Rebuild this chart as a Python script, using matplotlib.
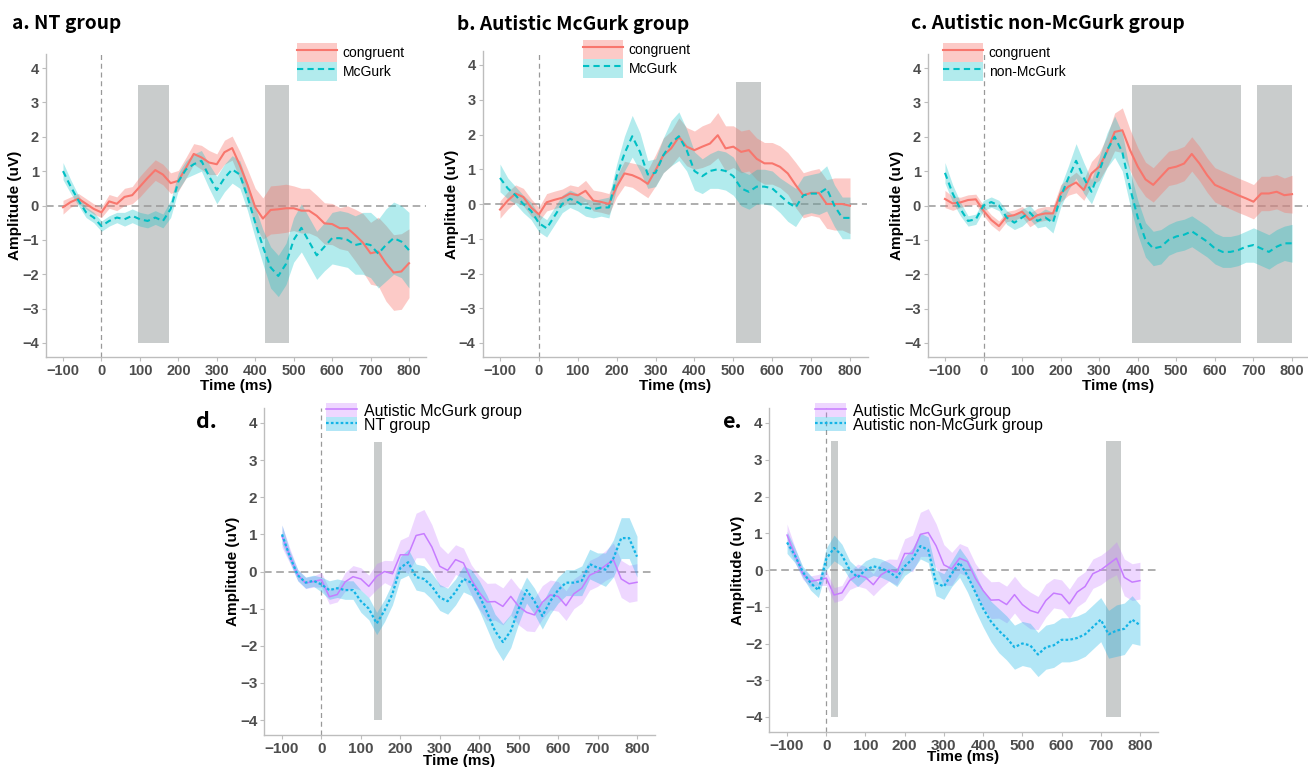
import numpy as np
import matplotlib
matplotlib.use("Agg")
import matplotlib.pyplot as plt
from matplotlib.patches import Patch
from matplotlib.lines import Line2D

plt.rcParams['font.family'] = ['Liberation Sans', 'DejaVu Sans']

# sample times (ms)
time_ms = np.arange(-100, 801, 20)

# ---- a. NT group ----
nt_congruent = [-0.05, 0.1, 0.2, 0.05, -0.1, -0.2, 0.12, 0.05, 0.25, 0.3,
                0.55, 0.8, 1.03, 0.9, 0.65, 0.72, 1.1, 1.5, 1.4, 1.25,
                1.2, 1.55, 1.67, 1.17, 0.6, -0.05, -0.38, -0.13, -0.11, -0.08,
                -0.08, -0.15, -0.15, -0.3, -0.52, -0.54, -0.66, -0.66, -0.86, -1.08,
                -1.39, -1.34, -1.68, -1.95, -1.92, -1.68]
nt_congruent_se = [0.2, 0.15, 0.15, 0.15, 0.15, 0.15, 0.2, 0.2, 0.25, 0.25,
                   0.3, 0.3, 0.3, 0.3, 0.3, 0.3, 0.3, 0.3, 0.35, 0.35,
                   0.3, 0.35, 0.35, 0.4, 0.45, 0.55, 0.6, 0.7, 0.7, 0.7,
                   0.65, 0.65, 0.65, 0.6, 0.6, 0.6, 0.6, 0.65, 0.75, 0.85,
                   0.9, 1.0, 1.1, 1.1, 1.1, 1.0]
nt_mcgurk = [1.0, 0.55, 0.15, -0.2, -0.35, -0.6, -0.45, -0.35, -0.4, -0.3,
             -0.4, -0.45, -0.35, -0.45, -0.1, 0.7, 1.05, 1.2, 1.3, 0.85,
             0.45, 0.8, 1.05, 0.9, 0.25, -0.5, -1.2, -1.8, -2.05, -1.7,
             -1.0, -0.65, -1.05, -1.45, -1.2, -0.95, -0.95, -1.0, -1.15, -1.1,
             -1.15, -1.4, -1.15, -0.95, -1.05, -1.3]
nt_mcgurk_se = [0.25, 0.2, 0.15, 0.15, 0.15, 0.15, 0.15, 0.15, 0.2, 0.2,
                0.2, 0.2, 0.2, 0.2, 0.25, 0.25, 0.25, 0.3, 0.3, 0.35,
                0.4, 0.4, 0.4, 0.4, 0.4, 0.45, 0.5, 0.6, 0.6, 0.6,
                0.65, 0.7, 0.7, 0.7, 0.7, 0.75, 0.8, 0.8, 0.85, 0.9,
                0.95, 1.0, 1.05, 1.05, 1.05, 1.1]

# ---- b. Autistic McGurk group ----
am_congruent = [-0.16, 0.1, 0.3, 0.2, -0.1, -0.3, 0.05, 0.12, 0.18, 0.3,
                0.25, 0.38, 0.1, 0.06, 0.0, 0.5, 0.88, 0.83, 0.73, 0.58,
                0.97, 1.4, 1.6, 1.93, 1.65, 1.55, 1.65, 1.74, 1.98, 1.6,
                1.65, 1.5, 1.55, 1.3, 1.17, 1.17, 1.07, 0.88, 0.55, 0.25,
                0.32, 0.32, 0.0, 0.0, 0.0, -0.05]
am_congruent_se = [0.25, 0.25, 0.25, 0.25, 0.25, 0.2, 0.25, 0.25, 0.25, 0.25,
                   0.25, 0.3, 0.3, 0.3, 0.3, 0.3, 0.35, 0.35, 0.4, 0.4,
                   0.45, 0.5, 0.5, 0.55, 0.55, 0.55, 0.6, 0.6, 0.65, 0.65,
                   0.6, 0.6, 0.6, 0.6, 0.6, 0.6, 0.6, 0.6, 0.65, 0.65,
                   0.65, 0.7, 0.7, 0.75, 0.75, 0.8]
am_mcgurk = [0.75, 0.45, 0.25, 0.0, -0.2, -0.55, -0.7, -0.35, 0.0, 0.15,
             0.05, -0.1, -0.15, -0.1, -0.1, 0.8, 1.45, 1.95, 1.5, 0.85,
             0.9, 1.4, 1.75, 1.95, 1.55, 0.95, 0.8, 0.95, 1.0, 0.95,
             0.8, 0.45, 0.35, 0.5, 0.5, 0.45, 0.25, 0.05, -0.1, 0.25,
             0.3, 0.3, 0.45, -0.05, -0.4, -0.4]
am_mcgurk_se = [0.4, 0.3, 0.25, 0.25, 0.25, 0.25, 0.25, 0.25, 0.25, 0.25,
                0.25, 0.25, 0.25, 0.25, 0.3, 0.35, 0.5, 0.6, 0.55, 0.4,
                0.4, 0.5, 0.65, 0.7, 0.6, 0.55, 0.5, 0.5, 0.55, 0.55,
                0.55, 0.5, 0.5, 0.5, 0.5, 0.5, 0.5, 0.55, 0.55, 0.55,
                0.55, 0.6, 0.65, 0.6, 0.6, 0.6]

# ---- c. Autistic non-McGurk group ----
an_congruent = [0.19, 0.06, 0.09, 0.16, 0.18, -0.15, -0.42, -0.6, -0.32, -0.28,
                -0.18, -0.42, -0.28, -0.23, -0.23, 0.35, 0.55, 0.67, 0.45, 0.93,
                1.13, 1.56, 2.14, 2.19, 1.61, 1.13, 0.76, 0.6, 0.84, 1.08,
                1.13, 1.22, 1.5, 1.22, 0.88, 0.6, 0.5, 0.4, 0.3, 0.21,
                0.11, 0.35, 0.35, 0.4, 0.3, 0.33]
an_congruent_se = [0.25, 0.2, 0.15, 0.15, 0.15, 0.15, 0.15, 0.15, 0.15, 0.15,
                   0.15, 0.2, 0.2, 0.2, 0.2, 0.25, 0.25, 0.3, 0.3, 0.35,
                   0.4, 0.45, 0.55, 0.65, 0.6, 0.55, 0.5, 0.5, 0.5, 0.5,
                   0.5, 0.5, 0.5, 0.5, 0.5, 0.5, 0.5, 0.5, 0.5, 0.5,
                   0.5, 0.5, 0.5, 0.5, 0.5, 0.55]
an_nonmcgurk = [0.95, 0.35, -0.1, -0.45, -0.4, 0.0, 0.1, 0.0, -0.35, -0.5,
                -0.35, -0.2, -0.45, -0.35, -0.5, 0.25, 0.8, 1.3, 0.8, 0.4,
                1.0, 1.6, 2.0, 1.55, 0.5, -0.35, -1.0, -1.25, -1.2, -1.0,
                -0.9, -0.85, -0.75, -0.9, -1.05, -1.25, -1.35, -1.35, -1.3, -1.2,
                -1.15, -1.25, -1.35, -1.2, -1.1, -1.1]
an_nonmcgurk_se = [0.3, 0.25, 0.2, 0.15, 0.15, 0.15, 0.15, 0.15, 0.2, 0.2,
                   0.25, 0.2, 0.2, 0.25, 0.3, 0.3, 0.35, 0.5, 0.45, 0.35,
                   0.4, 0.5, 0.6, 0.55, 0.5, 0.5, 0.5, 0.5, 0.5, 0.45,
                   0.45, 0.45, 0.45, 0.45, 0.45, 0.45, 0.45, 0.45, 0.45, 0.45,
                   0.5, 0.5, 0.5, 0.5, 0.5, 0.55]

# ---- d./e. group comparisons ----
grp_am = [0.95, 0.42, -0.1, -0.31, -0.27, -0.22, -0.68, -0.62, -0.28, -0.14,
          -0.2, -0.4, -0.13, 0.0, -0.06, 0.45, 0.45, 0.97, 1.02, 0.66,
          0.14, 0.03, 0.32, 0.23, -0.22, -0.56, -0.82, -0.81, -0.94, -0.67,
          -0.94, -1.1, -1.17, -0.83, -0.63, -0.67, -0.92, -0.6, -0.45, -0.1,
          0.0, 0.16, 0.32, -0.2, -0.33, -0.29]
grp_am_se = [0.3, 0.2, 0.15, 0.15, 0.15, 0.2, 0.2, 0.2, 0.25, 0.3,
             0.3, 0.3, 0.35, 0.3, 0.35, 0.4, 0.5, 0.6, 0.65, 0.6,
             0.55, 0.45, 0.4, 0.4, 0.4, 0.45, 0.5, 0.5, 0.5, 0.5,
             0.5, 0.5, 0.45, 0.45, 0.4, 0.4, 0.4, 0.4, 0.4, 0.4,
             0.4, 0.4, 0.45, 0.5, 0.5, 0.5]
grp_nt = [1.0, 0.4, -0.1, -0.3, -0.25, -0.35, -0.5, -0.45, -0.5, -0.5,
          -0.8, -1.0, -1.4, -1.05, -0.6, 0.1, 0.25, -0.15, -0.2, -0.4,
          -0.7, -0.8, -0.55, -0.2, -0.3, -0.65, -1.1, -1.6, -1.9, -1.6,
          -1.0, -0.5, -0.8, -1.2, -0.8, -0.5, -0.3, -0.3, -0.25, 0.2,
          0.1, 0.05, 0.35, 0.9, 0.9, 0.4]
grp_nt_se = [0.25, 0.15, 0.15, 0.15, 0.15, 0.2, 0.25, 0.25, 0.25, 0.25,
             0.3, 0.3, 0.3, 0.3, 0.3, 0.3, 0.35, 0.35, 0.35, 0.35,
             0.35, 0.35, 0.35, 0.35, 0.35, 0.4, 0.45, 0.45, 0.5, 0.45,
             0.4, 0.35, 0.35, 0.35, 0.35, 0.35, 0.35, 0.35, 0.4, 0.4,
             0.4, 0.45, 0.5, 0.55, 0.55, 0.55]
grp_an = [0.75, 0.4, -0.05, -0.35, -0.55, 0.3, 0.6, 0.4, 0.0, -0.2,
          0.0, 0.1, 0.05, -0.05, -0.2, 0.1, 0.3, 0.65, 0.55, -0.35,
          -0.45, -0.1, 0.2, -0.15, -0.6, -1.05, -1.4, -1.65, -1.85, -2.1,
          -2.0, -2.05, -2.3, -2.1, -2.05, -1.9, -1.9, -1.85, -1.75, -1.55,
          -1.35, -1.75, -1.65, -1.6, -1.35, -1.5]
grp_an_se = [0.3, 0.2, 0.15, 0.2, 0.2, 0.3, 0.35, 0.3, 0.25, 0.25,
             0.25, 0.25, 0.25, 0.25, 0.25, 0.25, 0.3, 0.35, 0.35, 0.35,
             0.35, 0.35, 0.4, 0.45, 0.5, 0.5, 0.55, 0.6, 0.6, 0.6,
             0.6, 0.6, 0.6, 0.6, 0.6, 0.6, 0.6, 0.6, 0.6, 0.6,
             0.6, 0.65, 0.7, 0.7, 0.65, 0.55]

# significant windows (ms)
windows_a = [(96, 176), (425, 488)]
windows_b = [(506, 570)]
windows_c = [(384, 668), (708, 800)]
windows_d = [(133, 153)]
windows_e = [(12, 31), (714, 752)]

RED, CYAN = '#F8766D', '#00BFC4'
PURPLE, BLUE = '#C77CFF', '#12B3E6'
GRAY = '#C9CCCC'

W, H = 1308, 767
fig = plt.figure(figsize=(W / 100, H / 100), dpi=100)


def add_axes_px(left, right, top, bottom):
    return fig.add_axes([left / W, 1 - bottom / H, (right - left) / W, (bottom - top) / H])


def draw_panel(ax, series, windows, fs, small):
    for x0, x1 in windows:
        ax.fill_between([x0, x1], -4, 3.5, color=GRAY, lw=0, zorder=1)
    ax.axhline(0, color='#999999', lw=1.1, ls=(0, (5, 3)), zorder=2)
    ax.axvline(0, color='#999999', lw=0.9, ls=(0, (4, 3)), zorder=2)
    for mean, se, col, alpha, ls, lw in series:
        m = np.array(mean)
        s = np.array(se)
        ax.fill_between(time_ms, m - s, m + s, color=col, alpha=alpha, lw=0, zorder=3)
    for mean, se, col, alpha, ls, lw in series:
        ax.plot(time_ms, mean, color=col, ls=ls, lw=lw, zorder=4)
    ax.set_xlim(-145, 845)
    ax.set_ylim(-4.4, 4.4)
    ax.set_xticks(range(-100, 801, 100))
    ax.set_yticks(range(-4, 5))
    for sp in ['top', 'right']:
        ax.spines[sp].set_visible(False)
    for sp in ['left', 'bottom']:
        ax.spines[sp].set_color('#BDBDBD')
        ax.spines[sp].set_linewidth(1.0)
    ax.tick_params(length=3, width=0.8, color='#BDBDBD', pad=2, labelsize=fs, labelcolor='#4D4D4D')
    for lab in ax.get_xticklabels() + ax.get_yticklabels():
        lab.set_fontweight('bold')
    ax.set_xlabel('Time (ms)', fontsize=11, fontweight='bold')
    ax.set_ylabel('Amplitude (uV)', fontsize=11, fontweight='bold')
    if small:
        ax.xaxis.set_label_coords(0.5, -0.058)
        ax.yaxis.set_label_coords(-0.062, 0.5)
    else:
        ax.xaxis.set_label_coords(0.5, -0.072)
        ax.yaxis.set_label_coords(-0.062, 0.5)


def add_legend(ax, x, y, entries, fs, hl, hh, ls_space):
    handles, labels = [], []
    for lab, col, alpha, ls, lw in entries:
        handles.append((Patch(facecolor=col, alpha=alpha, lw=0),
                        Line2D([], [], color=col, ls=ls, lw=lw)))
        labels.append(lab)
    ax.legend(handles, labels, loc='upper left', bbox_to_anchor=(x / W, 1 - y / H),
              bbox_transform=fig.transFigure, frameon=False, fontsize=fs,
              borderpad=0, borderaxespad=0, handlelength=hl, handleheight=hh,
              handletextpad=0.4, labelspacing=ls_space)


dashed = (0, (3, 2))
dotted = (0, (1.2, 1.0))

# a
ax_a = add_axes_px(45.7, 426.3, 54.25, 356.75)
draw_panel(ax_a, [(nt_congruent, nt_congruent_se, RED, 0.38, '-', 1.5),
                  (nt_mcgurk, nt_mcgurk_se, CYAN, 0.3, dashed, 1.5)], windows_a, 10.5, False)
add_legend(ax_a, 297, 43, [('congruent', RED, 0.38, '-', 1.5), ('McGurk', CYAN, 0.3, dashed, 1.5)],
           10, 2.9, 1.75, 0)

# b
ax_b = add_axes_px(482.5, 867.5, 51.1, 356.9)
draw_panel(ax_b, [(am_congruent, am_congruent_se, RED, 0.38, '-', 1.5),
                  (am_mcgurk, am_mcgurk_se, CYAN, 0.3, dashed, 1.5)], windows_b, 10.5, False)
add_legend(ax_b, 583, 40, [('congruent', RED, 0.38, '-', 1.5), ('McGurk', CYAN, 0.3, dashed, 1.5)],
           10, 2.9, 1.75, 0)

# c
ax_c = add_axes_px(927.6, 1309.4, 54.25, 356.75)
draw_panel(ax_c, [(an_congruent, an_congruent_se, RED, 0.38, '-', 1.5),
                  (an_nonmcgurk, an_nonmcgurk_se, CYAN, 0.3, dashed, 1.5)], windows_c, 10.5, False)
add_legend(ax_c, 943, 43, [('congruent', RED, 0.38, '-', 1.5), ('non-McGurk', CYAN, 0.3, dashed, 1.5)],
           10, 2.9, 1.75, 0)

# d
ax_d = add_axes_px(264.25, 654.75, 408.15, 734.85)
draw_panel(ax_d, [(grp_am, grp_am_se, PURPLE, 0.3, '-', 1.1),
                  (grp_nt, grp_nt_se, BLUE, 0.32, dotted, 1.6)], windows_d, 11, True)
add_legend(ax_d, 326, 403, [('Autistic McGurk group', PURPLE, 0.3, '-', 1.1),
                            ('NT group', BLUE, 0.32, dotted, 1.6)], 11.5, 1.95, 1.0, -0.1)

# e
ax_e = add_axes_px(769.4, 1157.6, 408.3, 731.7)
draw_panel(ax_e, [(grp_am, grp_am_se, PURPLE, 0.3, '-', 1.1),
                  (grp_an, grp_an_se, BLUE, 0.32, dotted, 1.6)], windows_e, 11, True)
add_legend(ax_e, 815, 403, [('Autistic McGurk group', PURPLE, 0.3, '-', 1.1),
                            ('Autistic non-McGurk group', BLUE, 0.32, dotted, 1.6)], 11.5, 1.95, 1.0, -0.1)

# panel titles
title_font = ['Noto Sans CJK SC', 'DejaVu Sans']
fig.text(12 / W, 1 - 29 / H, 'a. NT group', fontsize=13.8, family=title_font, weight='bold', va='baseline')
fig.text(457 / W, 1 - 30 / H, 'b. Autistic McGurk group', fontsize=13.8, family=title_font, weight='bold', va='baseline')
fig.text(911 / W, 1 - 29 / H, 'c. Autistic non-McGurk group', fontsize=13.8, family=title_font, weight='bold', va='baseline')
fig.text(196 / W, 1 - 428 / H, 'd.', fontsize=15.5, family=title_font, weight='bold', va='baseline')
fig.text(722 / W, 1 - 428 / H, 'e.', fontsize=15.5, family=title_font, weight='bold', va='baseline')

fig.savefig('out.png', dpi=100)
